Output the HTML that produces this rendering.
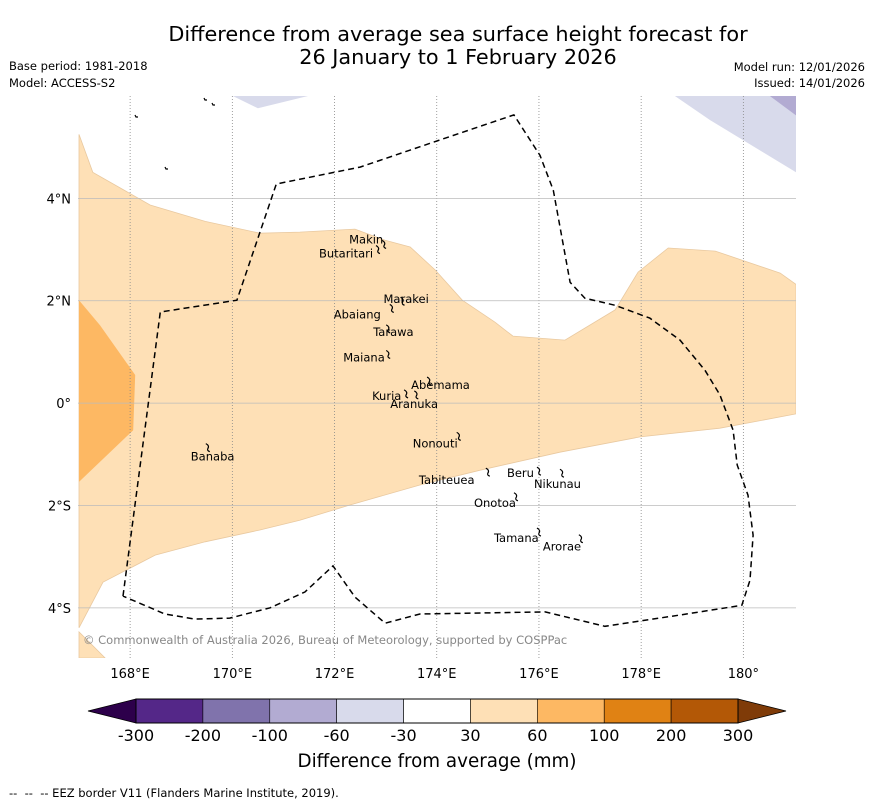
<!DOCTYPE html>
<html><head><meta charset="utf-8">
<style>
body{margin:0;background:#fff;width:873px;height:804px;overflow:hidden;font-family:"Liberation Sans","DejaVu Sans",sans-serif}
svg text{font-family:"DejaVu Sans","Liberation Sans",sans-serif}
</style></head>
<body>
<svg id="chart" width="873" height="804" viewBox="0 0 873 804" xmlns="http://www.w3.org/2000/svg">
<text x="458" y="41" font-size="20.8" text-anchor="middle">Difference from average sea surface height forecast for</text>
<text x="458" y="64" font-size="20.8" text-anchor="middle">26 January to 1 February 2026</text>
<text x="9" y="70" font-size="11.5">Base period: 1981-2018</text>
<text x="9" y="87" font-size="11.5">Model: ACCESS-S2</text>
<text x="865" y="71" font-size="11.5" text-anchor="end">Model run: 12/01/2026</text>
<text x="865" y="87" font-size="11.5" text-anchor="end">Issued: 14/01/2026</text>
<defs><clipPath id="mapclip"><rect x="78" y="96" width="718" height="562"/></clipPath></defs>
<g id="map" clip-path="url(#mapclip)"></g>
<g id="axes"></g>
<text x="83" y="644" font-size="11.5" fill="#888">© Commonwealth of Australia 2026, Bureau of Meteorology, supported by COSPPac</text>
<g id="cbar"></g>
<text x="437" y="767" font-size="18.3" text-anchor="middle">Difference from average (mm)</text>
<text x="9" y="797" font-size="11.5" xml:space="preserve">--  --  -- EEZ border V11 (Flanders Marine Institute, 2019).</text>
</svg>
<script>
// ---- data ----
const lonTicks = [168,170,172,174,176,178,180];
const lonTickLabels = ["168°E","170°E","172°E","174°E","176°E","178°E","180°"];
const latTicks = [4,2,0,-2,-4];
const latTickLabels = ["4°N","2°N","0°","2°S","4°S"];
const cbarBounds = [-300,-200,-100,-60,-30,30,60,100,200,300];
const cbarColors = ["#542788","#8073ac","#b2abd2","#d8daeb","#ffffff","#fee0b6","#fdb863","#e08214","#b35806"];
const cbarLowColor = "#2d004b";
const cbarHighColor = "#7f3b08";
// contour polygons [lon,lat]
const band30to60Lon = [167,167.27,168.39,169.47,170.54,171.32,172.40,172.99,173.48,173.97,174.50,175.14,175.49,176.51,177.49,177.94,178.53,179.45,180.72,181.03,181.03,179.54,177.98,176.41,174.85,173.67,172.30,171.32,170.54,169.47,168.49,167.47,167];
const band30to60Lat = [5.25,4.51,3.87,3.55,3.32,3.34,3.40,3.18,3.05,2.60,2.01,1.58,1.31,1.23,1.82,2.56,3.03,2.97,2.54,2.32,-0.21,-0.49,-0.66,-0.96,-1.31,-1.60,-1.99,-2.29,-2.48,-2.71,-2.97,-3.50,-4.39];
const band60to100Lon = [167,167.41,168.10,168.06,167];
const band60to100Lat = [2.01,1.52,0.55,-0.53,-1.54];
const bandSW30to60Lon = [167,167.51,167];
const bandSW30to60Lat = [-4.47,-4.98,-4.98];
const bandNegA_Lon = [170.01,170.50,171.48];
const bandNegA_Lat = [6.0,5.76,6.0];
const bandNegB_Lon = [178.66,179.35,181.03,181.03];
const bandNegB_Lat = [6.0,5.53,4.51,6.0];
const bandNegC_Lon = [180.52,181.03,181.03];
const bandNegC_Lat = [6.0,5.62,6.0];
const eezLon = [167.86,168.59,170.09,170.86,172.50,174.06,175.51,176.02,176.28,176.61,176.90,177.49,178.17,178.76,179.25,179.54,179.80,179.88,180.09,180.19,180.13,179.97,178.76,177.29,176.12,173.67,172.99,172.40,171.97,171.42,170.74,169.95,169.27,168.68,167.86];
const eezLat = [-3.77,1.78,2.01,4.28,4.61,5.14,5.63,4.84,4.16,2.36,2.05,1.91,1.66,1.23,0.64,0.16,-0.53,-1.21,-1.80,-2.58,-3.46,-3.95,-4.14,-4.36,-4.08,-4.12,-4.30,-3.79,-3.18,-3.69,-4.00,-4.20,-4.22,-4.12,-3.77];
const islandNames = ["Makin","Butaritari","Marakei","Abaiang","Tarawa","Maiana","Abemama","Kuria","Aranuka","Nonouti","Tabiteuea","Beru","Nikunau","Onotoa","Tamana","Arorae","Banaba"];
const islandLon = [172.97,172.85,173.33,173.12,173.05,173.05,173.85,173.40,173.60,174.43,175.0,176.0,176.45,175.55,176.0,176.82,169.52];
const islandLat = [3.10,3.00,1.99,1.85,1.45,0.95,0.43,0.18,0.16,-0.65,-1.35,-1.33,-1.37,-1.83,-2.52,-2.65,-0.87];
const labelDx = [-35,-59,-19,-58,-15,-45,-18,-34,-26,-46,-69,-32,-28,-42,-45,-38,-17];
const labelDy = [-1,8,2,10,7,7,8,6,13,11,12,6,15,10,10,12,13];

// ---- scales ----
const X0=78,X1=796,Y0=96,Y1=658;
const lonMin=166.98,lonMax=181.03,latMax=6.0,latMin=-4.98;
const xs = lon => X0 + (lon-lonMin)/(lonMax-lonMin)*(X1-X0);
const ys = lat => Y0 + (latMax-lat)/(latMax-latMin)*(Y1-Y0);
const NS="http://www.w3.org/2000/svg";
function mk(tag,parent,attrs){const e=document.createElementNS(NS,tag);for(const k in attrs)e.setAttribute(k,attrs[k]);parent.appendChild(e);return e;}
const map=document.getElementById('map');
function poly(lons,lats,fill,name){
  const pts=lons.map((l,i)=>xs(l).toFixed(1)+","+ys(lats[i]).toFixed(1)).join(" ");
  const p=mk('polygon',map,{points:pts,fill:fill,stroke:fill==='#fee0b6'?'#e9c9a0':'none','stroke-width':0.8});
  
  
}
poly(band30to60Lon,band30to60Lat,cbarColors[5],'contour-30-to-60');
poly(band60to100Lon,band60to100Lat,cbarColors[6],'contour-60-to-100');
poly(bandSW30to60Lon,bandSW30to60Lat,cbarColors[5],'contour-30-to-60-southwest');
poly(bandNegA_Lon,bandNegA_Lat,cbarColors[3],'contour-minus60-to-minus30-north');
poly(bandNegB_Lon,bandNegB_Lat,cbarColors[3],'contour-minus60-to-minus30-northeast');
poly(bandNegC_Lon,bandNegC_Lat,cbarColors[2],'contour-minus100-to-minus60-northeast');
// gridlines
lonTicks.forEach(l=>{const g=mk('line',map,{x1:xs(l),x2:xs(l),y1:Y0,y2:Y1,stroke:'#888','stroke-width':0.8,'stroke-dasharray':'1,2'});
  });
latTicks.forEach(l=>{const g=mk('line',map,{x1:X0,x2:X1,y1:ys(l),y2:ys(l),stroke:'#bbb','stroke-width':0.8});
  });
// EEZ
const eez=mk('polyline',map,{points:eezLon.map((l,i)=>xs(l).toFixed(1)+","+ys(eezLat[i]).toFixed(1)).join(" "),fill:'none',stroke:'#000','stroke-width':1.5,'stroke-dasharray':'6,4'});


// small land bits at top
[[135,115],[165,167],[204,98],[212,103]].forEach(p=>{const s=mk('path',map,{d:`M${p[0]},${p[1]} l1,2 l2,0`,stroke:'#000',fill:'none','stroke-width':1.2});
  });
// islands
islandNames.forEach((n,i)=>{
  const x=xs(islandLon[i]),y=ys(islandLat[i]);
  const s=mk('path',map,{d:`M${x-2},${y-4} q4,2 2,5 q-1,2 2,3`,stroke:'#000',fill:'none','stroke-width':1.2});
  
  
  const t=mk('text',map,{x:x+labelDx[i],y:y+labelDy[i],'font-size':11.5,'text-anchor':'start'});
  t.textContent=n;
  
  
});
// axis tick labels
const axes=document.getElementById('axes');
lonTicks.forEach((l,i)=>{const t=mk('text',axes,{x:xs(l),y:678,'font-size':13,'text-anchor':'middle'});t.textContent=lonTickLabels[i];
  });
latTicks.forEach((l,i)=>{const t=mk('text',axes,{x:71,y:ys(l)+5,'font-size':13,'text-anchor':'end'});t.textContent=latTickLabels[i];
  });
// colorbar
const cb=document.getElementById('cbar');
const CB0=136,CB1=738,CBY=699,CBH=24;
const segW=(CB1-CB0)/cbarColors.length;
const lt=mk('polygon',cb,{points:`${CB0},${CBY} ${88},${CBY+CBH/2} ${CB0},${CBY+CBH}`,fill:cbarLowColor,stroke:'#000','stroke-width':0.8});

const rt=mk('polygon',cb,{points:`${CB1},${CBY} ${786},${CBY+CBH/2} ${CB1},${CBY+CBH}`,fill:cbarHighColor,stroke:'#000','stroke-width':0.8});

cbarColors.forEach((c,i)=>{const r=mk('rect',cb,{x:CB0+i*segW,y:CBY,width:segW,height:CBH,fill:c,stroke:'#000','stroke-width':0.6});
  });
mk('rect',cb,{x:CB0,y:CBY,width:CB1-CB0,height:CBH,fill:'none',stroke:'#000','stroke-width':1});
cbarBounds.forEach((b,i)=>{const t=mk('text',cb,{x:CB0+i*segW,y:741,'font-size':16,'text-anchor':'middle'});t.textContent=b;
  });
</script>
</body></html>
